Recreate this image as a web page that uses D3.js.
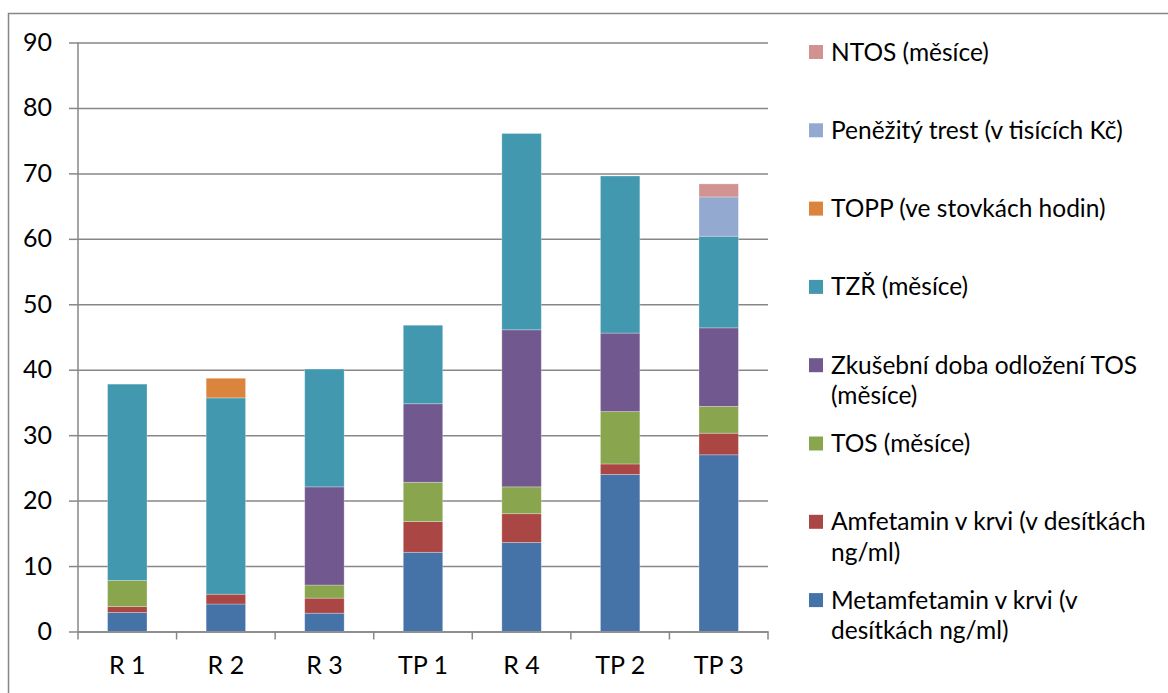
<!DOCTYPE html>
<html><head><meta charset="utf-8">
<script src="https://cdn.jsdelivr.net/npm/d3@7"></script>
<style>body{margin:0;background:#fff}svg{display:block}text{font-family:Lato,"Open Sans",sans-serif;fill:#000}</style>
</head><body><svg id="c" width="1168" height="693"></svg>
<script>
const categories = ["R 1","R 2","R 3","TP 1","R 4","TP 2","TP 3"];
const seriesNames = [
  "Metamfetamin v krvi (v\ndesítkách ng/ml)",
  "Amfetamin v krvi (v desítkách\nng/ml)",
  "TOS (měsíce)",
  "Zkušební doba odložení TOS\n(měsíce)",
  "TZŘ (měsíce)",
  "TOPP (ve stovkách hodin)",
  "Peněžitý trest (v tisících Kč)",
  "NTOS (měsíce)"
];
const metamfetamin = [2.9, 4.2, 2.8, 12.1, 13.6, 24, 27];
const amfetamin    = [0.9, 1.5, 2.3, 4.7, 4.4, 1.6, 3.3];
const tos          = [4, 0, 2, 6, 4.1, 8, 4.1];
const zkusebni     = [0, 0, 15, 12, 24, 12, 12];
const tzr          = [30, 30, 18, 12, 30, 24, 14];
const topp         = [0, 3, 0, 0, 0, 0, 0];
const penezity     = [0, 0, 0, 0, 0, 0, 6];
const ntos         = [0, 0, 0, 0, 0, 0, 2];
const seriesValues = [metamfetamin, amfetamin, tos, zkusebni, tzr, topp, penezity, ntos];
const colors = ["#4572A7","#AA4643","#89A54E","#71588F","#4198AF","#DB843D","#93A9CF","#D19392"];
const yTicks = [0,10,20,30,40,50,60,70,80,90];

(function(){
const svg = d3.select("#c");
const pL = 78, pR = 768, pT = 42.5, pB = 631.5;
const grid = "#878787";
const axisFont = 25, legendFont = 24.5;

svg.append("rect").attr("x",8.5).attr("y",13.5).attr("width",1200).attr("height",720)
  .attr("fill","none").attr("stroke","#868686").attr("stroke-width",1.5);

const x = d3.scaleBand().domain(categories).range([pL,pR]).paddingInner(0.6).paddingOuter(0.3);
const y = d3.scaleLinear().domain([0,90]).range([pB, pT]);

const gg = svg.append("g").attr("transform",`translate(${pL},0)`)
  .call(d3.axisLeft(y).tickValues(yTicks).tickSize(-(pR-pL)).tickFormat(""));
gg.select(".domain").remove();
gg.selectAll("line").attr("stroke",grid).attr("stroke-width",1.5);

const rows = categories.map((c,i)=>{const o={cat:c}; seriesValues.forEach((s,k)=>o["s"+k]=s[i]); return o;});
const stack = d3.stack().keys(seriesValues.map((s,k)=>"s"+k))(rows);
svg.append("g").selectAll("g").data(stack).join("g").attr("fill",(d,i)=>colors[i])
  .selectAll("rect").data(d=>d.filter(p=>p[1]-p[0]>0)).join("rect")
  .attr("x",d=>x(d.data.cat)).attr("width",x.bandwidth())
  .attr("y",d=>y(d[1])).attr("height",d=>y(d[0])-y(d[1]))
  .attr("stroke","rgba(255,255,255,0.35)").attr("stroke-width",0.8);

const ya = svg.append("g").attr("transform",`translate(${pL},0)`)
  .call(d3.axisLeft(y).tickValues(yTicks).tickSize(9).tickPadding(17).tickSizeOuter(0));
ya.select(".domain").remove();
ya.selectAll("line").attr("stroke",grid).attr("stroke-width",1.5);
ya.selectAll("text").attr("font-size",axisFont).attr("font-family","Lato").attr("fill","#000");
svg.append("line").attr("x1",pL).attr("x2",pL).attr("y1",pT).attr("y2",pB+8)
  .attr("stroke",grid).attr("stroke-width",1.5);

const xa = svg.append("g").attr("transform",`translate(0,${pB})`)
  .call(d3.axisBottom(x).tickSize(0).tickPadding(0).tickSizeOuter(0));
xa.select(".domain").attr("stroke",grid).attr("stroke-width",1.5);
xa.selectAll("text").attr("font-size",axisFont).attr("font-family","Lato").attr("fill","#000").attr("y",34).attr("dy","0.35em");
const bounds = categories.map(c=>x(c)-x.step()*x.paddingOuter()).concat([pR]);
svg.append("g").selectAll("line").data(bounds.slice(1)).join("line")
  .attr("x1",d=>d).attr("x2",d=>d).attr("y1",pB).attr("y2",pB+8)
  .attr("stroke",grid).attr("stroke-width",1.5);

const legendOrder = d3.range(seriesNames.length).reverse();
const lg = svg.append("g").selectAll("g").data(legendOrder).join("g")
  .attr("transform",(k,i)=>`translate(809,${52+i*78.3})`);
lg.append("rect").attr("x",0).attr("y",-7).attr("width",14).attr("height",14).attr("fill",k=>colors[k]);
lg.each(function(k){
  const t = d3.select(this).append("text").attr("x",22).attr("font-size",legendFont);
  seriesNames[k].split("\n").forEach((ln,j)=>{
    t.append("tspan").attr("x",22).attr("y",j*30.5).attr("dy","0.35em").text(ln);
  });
});
})();
</script></body></html>
